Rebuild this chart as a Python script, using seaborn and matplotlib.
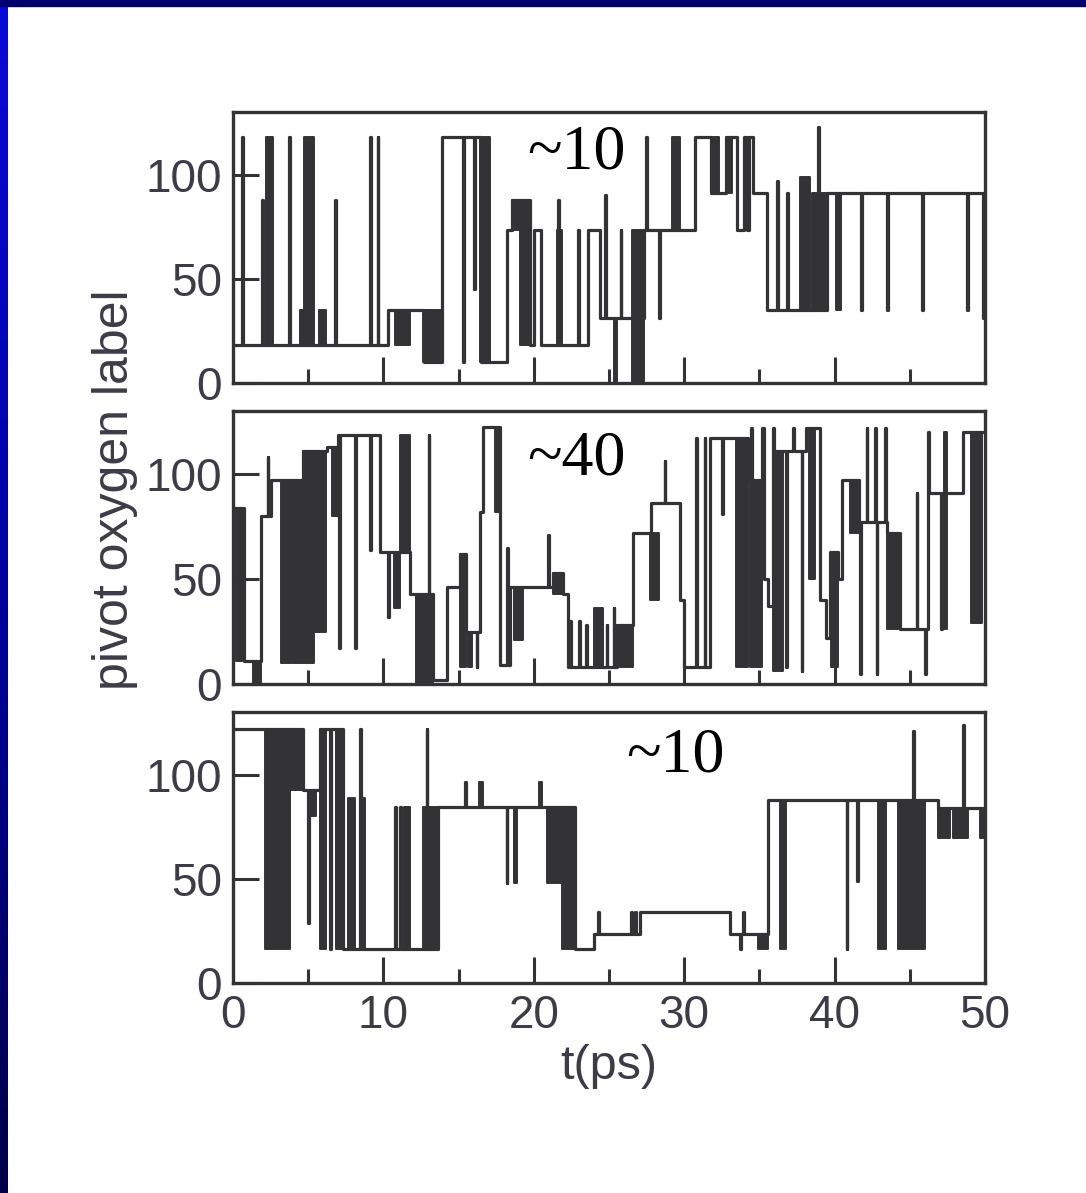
import numpy as np
import matplotlib
matplotlib.use("Agg")
import matplotlib.pyplot as plt
from matplotlib.patches import Rectangle
from matplotlib.colors import LinearSegmentedColormap
import seaborn as sns

# ---------------- data ----------------
x_ticks = [0, 10, 20, 30, 40, 50]
y_ticks = [0, 50, 100]
annot_labels = ["~10", "~40", "~10"]

# panel 1 : step breakpoints (time ps, pivot label)
p1_t = [0, 0.62, 0.68, 1.95, 2.0, 3.72, 3.78, 6.76, 6.82, 9.13, 9.18, 9.62, 9.67,
        10.3, 12.7, 13.87, 15.3, 15.35, 16.05, 16.1, 16.5, 18.2, 18.55, 19.75,
        20.0, 20.45, 21.62, 21.67, 22.95, 23.0, 23.6, 24.4, 24.72, 24.77, 25.78,
        25.83, 27.3, 27.45, 27.5, 28.35, 28.4, 30.7, 31.8, 32.8, 33.5, 33.95,
        34.15, 34.3, 34.6, 35.5, 36.2, 36.25, 36.85, 36.9, 38.9, 38.95, 39.5,
        41.75, 41.8, 43.5, 43.55, 45.8, 45.85, 48.8, 48.85, 49.85, 50]
p1_v = [18, 118, 18, 88, 18, 118, 18, 88, 18, 118, 18, 118, 18,
        35, 10, 118, 10, 118, 45, 118, 10, 73.5, 88, 18,
        73.5, 18, 88, 18, 73.5, 18, 73.5, 31, 90, 31, 73.5,
        31, 73.5, 118, 73.5, 31, 73.5, 118, 91, 118, 73.5, 118,
        73.5, 118, 91, 35, 97, 35, 91, 35, 123, 35, 91,
        35, 91, 35, 91, 35, 91, 35, 91, 31, 31]
# dense switching bursts: (start, end, low, high)
p1_bursts = [(2.2, 2.64, 18, 118), (4.45, 4.72, 18, 35), (4.72, 5.38, 18, 118),
             (5.74, 6.2, 18, 35), (10.8, 11.8, 18, 35), (12.65, 13.8, 10, 35),
             (16.45, 17.1, 10, 118), (18.55, 19.1, 73.5, 88), (19.1, 19.7, 18, 88),
             (21.55, 21.9, 18, 73.5), (25.3, 25.5, 0, 31), (26.5, 27.3, 0, 73.5),
             (29.2, 29.7, 73.5, 118), (31.8, 32.3, 91, 118), (32.8, 33.2, 91, 118),
             (37.7, 38.35, 35, 99), (38.5, 39.5, 35, 91), (40.1, 40.4, 35, 91)]

# panel 2
p2_t = [0, 0.75, 1.85, 2.3, 2.35, 2.5, 4.68, 6.23, 7.0, 7.05, 7.1, 8.1, 8.15,
        9.1, 9.15, 9.77, 10.33, 10.38, 11.77, 13.0, 13.05, 13.3, 14.2, 15.1,
        15.5, 16.2, 16.25, 16.4, 16.64, 17.75, 18.25, 18.3, 18.4, 20.95, 21.0,
        21.3, 21.96, 22.3, 22.4, 22.45, 23.0, 23.05, 23.5, 23.55, 24.85, 24.9,
        25.3, 25.35, 25.5, 26.6, 27.8, 28.7, 28.75, 29.75, 30.0, 30.8, 30.85,
        31.35, 31.4, 31.7, 32.5, 32.55, 34.25, 34.45, 34.5, 35.2, 35.28, 35.6,
        35.9, 35.95, 36.8, 36.85, 37.25, 37.3, 37.8, 37.85, 38.1, 39.05, 39.4,
        39.7, 40.25, 40.47, 41.6, 41.7, 41.75, 42.13, 42.18, 42.68, 42.73, 42.8,
        42.85, 43.35, 43.4, 43.46, 44.35, 45.45, 45.5, 46.0, 46.05, 46.2, 46.3,
        47.1, 47.15, 48.56, 50]
p2_v = [84, 11, 80, 108, 80, 97, 111, 113, 118.6, 17, 118.6, 17, 118.6,
        64, 118.6, 63, 32, 63, 43, 118.6, 43, 2, 46, 62,
        25, 8, 25, 82, 122.6, 9, 65, 9, 46, 71, 46,
        53, 43, 8, 30, 8, 30, 8, 28, 8, 28, 8,
        36, 8, 28, 72, 86, 106, 86, 40, 8, 117, 8,
        117, 8, 117, 81, 117, 97, 122, 97, 122, 50, 37,
        122, 111, 8, 111, 122, 111, 6, 111, 122, 40, 22,
        63, 50, 97, 77, 5, 77, 122, 77, 122, 77, 5,
        77, 122, 77, 72, 26, 91, 26, 5, 26, 120, 91,
        26, 91, 120, 120]
p2_bursts = [(0.2, 0.7, 11, 84), (1.35, 1.85, 0, 11), (3.2, 3.9, 10, 97),
             (4.0, 4.65, 10, 97), (4.68, 5.4, 10, 111), (5.4, 6.2, 25, 111),
             (6.6, 6.95, 80, 113), (10.7, 11.1, 36, 63), (11.1, 11.75, 63, 118.6),
             (12.2, 13.3, 0, 43), (15.1, 15.5, 8, 62), (15.6, 15.9, 8, 25),
             (17.4, 17.75, 82, 122.6), (18.7, 19.3, 21, 46), (21.3, 21.9, 43, 53),
             (24.0, 24.6, 8, 36), (25.5, 26.6, 8, 28), (27.7, 28.3, 40, 72),
             (33.45, 34.25, 8, 117), (34.4, 35.2, 8, 97), (35.9, 36.6, 6, 111),
             (38.3, 38.7, 50, 122), (39.75, 40.2, 8, 63), (41.0, 41.6, 72, 97),
             (43.5, 44.3, 26, 72), (47.25, 47.45, 26, 120), (49.1, 49.8, 29, 120)]

# panel 3
p3_t = [0, 4.68, 5.0, 5.05, 5.78, 6.45, 6.5, 7.34, 8.45, 8.5, 10.77, 10.82,
        11.1, 11.15, 12.87, 12.92, 13.65, 15.42, 15.47, 18.2, 18.25, 22.75,
        24.0, 24.3, 24.35, 26.45, 26.5, 26.75, 26.8, 27.06, 33.04, 33.7, 33.75,
        33.93, 33.98, 35.6, 40.8, 40.85, 41.5, 41.55, 45.23, 45.28, 46.89,
        48.56, 48.61, 50]
p3_v = [122, 92.6, 29, 92.6, 122, 16.5, 122, 16.5, 122, 16.5, 84.6, 16.5,
        84.6, 16.5, 122, 16.5, 84.6, 96.6, 84.6, 48, 84.6, 16.5,
        23.7, 34, 23.7, 34, 23.7, 34, 23.7, 34, 23.7, 16.5, 23.7,
        34, 23.7, 88, 16.5, 88, 49, 88, 120.7, 88, 84,
        124, 84, 84]
p3_bursts = [(2.13, 3.79, 16.5, 122), (3.8, 4.68, 92.6, 122), (5.0, 5.55, 80, 92.6),
             (5.78, 6.2, 16.5, 122), (6.85, 7.3, 16.5, 122), (7.65, 8.1, 16.5, 88.6),
             (8.45, 8.78, 16.5, 88.6), (11.4, 11.8, 16.5, 84.6), (12.65, 13.65, 16.5, 84.6),
             (16.35, 16.6, 84.6, 96.6), (18.7, 18.9, 48, 84.6), (20.35, 20.55, 84.6, 96.6),
             (20.9, 21.9, 48, 84.6), (21.9, 22.75, 16.5, 84.6), (34.93, 35.6, 16.5, 23.7),
             (36.37, 36.8, 16.5, 88), (42.9, 43.45, 16.5, 88), (44.24, 46.0, 16.5, 88),
             (46.89, 47.67, 69.5, 84), (47.89, 48.89, 69.5, 84), (49.67, 50, 69.5, 84)]

annot_pos = [(22.8, 110), (22.8, 107), (29.4, 108.7)]

# ---------------- style ----------------
sns.set_theme(style="white")
plt.rcParams['font.family'] = ['Liberation Sans', 'DejaVu Sans']

W, H = 1086, 1193
fig = plt.figure(figsize=(W / 100, H / 100), dpi=100)
fig.patch.set_facecolor("white")

ink = "#333336"
txt = "#3c3c46"

# blue slide frame
gax = fig.add_axes([0, 0, 8 / W, 1])
grad = np.linspace(0, 1, 256).reshape(-1, 1)
cmap = LinearSegmentedColormap.from_list("fr", ["#0a0ad8", "#0000a0", "#000048"])
gax.imshow(grad, aspect="auto", cmap=cmap, extent=[0, 1, 0, 1], origin="upper")
gax.axis("off")
fig.patches.append(Rectangle((0, 1 - 6 / H), 1, 6 / H, transform=fig.transFigure,
                             color="#00006e", zorder=5))

panels = [(112, 383, p1_t, p1_v, p1_bursts),
          (411, 684, p2_t, p2_v, p2_bursts),
          (712, 983, p3_t, p3_v, p3_bursts)]

left, right = 233, 985
for i, (top, bot, tt, vv, bursts) in enumerate(panels):
    ax = fig.add_axes([left / W, 1 - bot / H, (right - left) / W, (bot - top) / H])
    ax.set_facecolor("white")
    sns.lineplot(x=tt, y=vv, ax=ax, drawstyle="steps-post", color=ink,
                 linewidth=2.3, estimator=None, sort=False)
    for (a, b, lo, hi) in bursts:
        ax.fill_between([a, b], [lo, lo], [hi, hi], color=ink, linewidth=1.4,
                        edgecolor=ink, zorder=3)
    ax.set_xlim(0, 50)
    ax.set_ylim(0, 130)
    ax.set_xticks(x_ticks)
    ax.set_xticks([5, 15, 25, 35, 45], minor=True)
    ax.set_yticks(y_ticks)
    ax.tick_params(axis="both", which="major", direction="in", length=19, width=2.2,
                   color=ink, labelsize=33, labelcolor=txt, pad=8)
    ax.tick_params(axis="x", which="minor", direction="in", length=10, width=2.2,
                   color=ink, bottom=True)
    ax.tick_params(axis="x", which="both", bottom=True, top=False)
    ax.tick_params(axis="y", which="both", left=True, right=False)
    if i < 2:
        ax.set_xticklabels([])
    for s in ax.spines.values():
        s.set_color(ink)
        s.set_linewidth(2.4)
        s.set_visible(True)
    ax.set_xlabel("")
    ax.set_ylabel("")
    ax.text(annot_pos[i][0], annot_pos[i][1], annot_labels[i], ha="center",
            va="center", fontsize=46, family=["Liberation Serif", "DejaVu Serif"],
            color="black", zorder=6)
    if i == 2:
        ax.set_xlabel("t(ps)", fontsize=35, color=txt, labelpad=4)

fig.text(115 / W, 1 - 490 / H, "pivot oxygen label", rotation=90, ha="center",
         va="center", fontsize=36, color=txt)

fig.savefig("out.png", dpi=100)
